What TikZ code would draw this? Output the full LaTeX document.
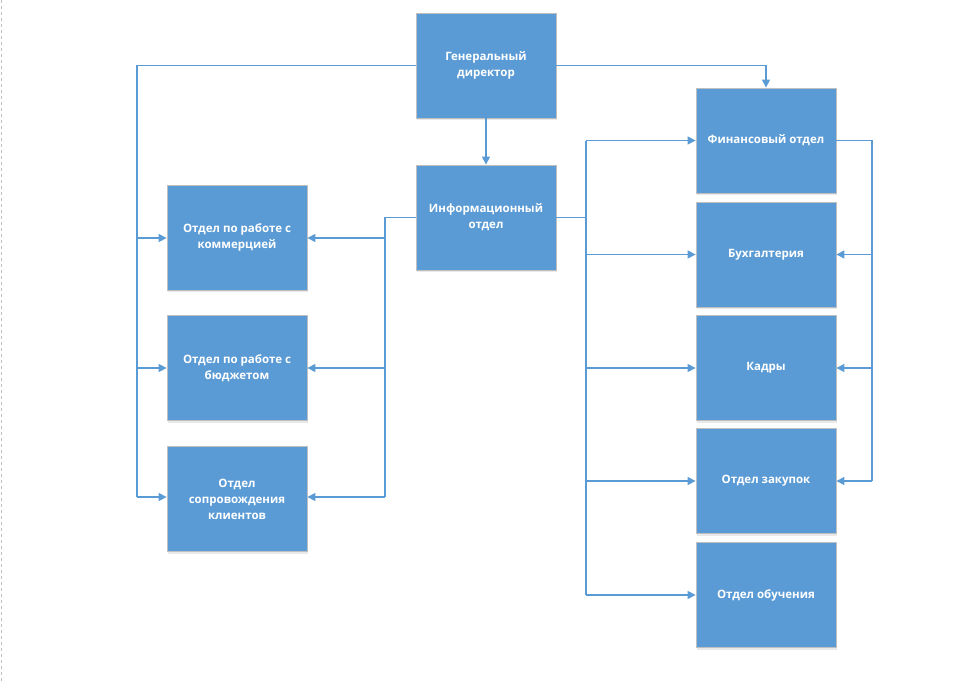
\documentclass[tikz,border=0pt]{standalone}
\usepackage{fontspec}
\setmainfont{Open Sans}
\usetikzlibrary{arrows.meta,shadows}
\definecolor{boxblue}{HTML}{5B9BD5}
\definecolor{boxedge}{HTML}{BFBFBF}
\definecolor{lineblue}{HTML}{5B9BD5}
\begin{document}
\begin{tikzpicture}[x=1pt,y=-1pt,
  box/.style={draw=boxedge,line width=0.8pt,fill=boxblue,minimum width=140pt,minimum height=105pt,
    inner sep=0pt,align=center,text=white,font=\fontsize{11.5}{16}\selectfont\bfseries,
    drop shadow={shadow xshift=1pt,shadow yshift=-2pt,fill=black!25,opacity=0.35}},
  link/.style={draw=lineblue,line width=1.3pt},
  arr/.style={link,-{Triangle[length=8pt,width=8pt]}}]
\useasboundingbox (0,0) rectangle (965,682);
\draw[boxedge,dashed,line width=0.6pt] (1,0) -- (1,682);
% boxes
\node[box] (gd) at (486,65.5) {Генеральный\\директор};
\node[box] (info) at (486,217.5) {Информационный\\отдел};
\node[box] (l1) at (237,237.5) {Отдел по работе с\\коммерцией};
\node[box] (l2) at (237,368) {Отдел по работе с\\бюджетом};
\node[box] (l3) at (237,499) {Отдел\\сопровождения\\клиентов};
\node[box] (r1) at (766,140.5) {Финансовый отдел};
\node[box] (r2) at (766,254.5) {Бухгалтерия};
\node[box] (r3) at (766,368) {Кадры};
\node[box] (r4) at (766,481) {Отдел закупок};
\node[box] (r5) at (766,595) {Отдел обучения};
% buses
\coordinate (lbus) at (137,0);
\coordinate (mbus) at (385,0);
\coordinate (rbus) at (586,0);
\coordinate (fbus) at (872,0);
\coordinate (topbus) at (766,0);
% GD left bus
\draw[link] (gd.west) -- (gd.west -| lbus) -- (lbus |- 0,497);
\draw[arr] (lbus |- 0,238) -- (l1.west |- 0,238);
\draw[arr] (lbus |- 0,368) -- (l2.west |- 0,368);
\draw[arr] (lbus |- 0,497) -- (l3.west |- 0,497);
% GD right to Fin
\draw[arr] (gd.east) -| (r1.north);
% GD to Info
\draw[arr] (gd.south) -- (info.north);
% Info left bus
\draw[link] (info.west) -- (info.west -| mbus) -- (mbus |- 0,497);
\draw[arr] (mbus |- 0,238) -- (l1.east |- 0,238);
\draw[arr] (mbus |- 0,368) -- (l2.east |- 0,368);
\draw[arr] (mbus |- 0,497) -- (l3.east |- 0,497);
% Info right bus
\draw[link] (info.east) -- (info.east -| rbus);
\draw[link] (rbus |- r1.west) -- (rbus |- r5.west);
\draw[arr] (rbus |- r1.west) -- (r1.west);
\draw[arr] (rbus |- r2.west) -- (r2.west);
\draw[arr] (rbus |- r3.west) -- (r3.west);
\draw[arr] (rbus |- r4.west) -- (r4.west);
\draw[arr] (rbus |- r5.west) -- (r5.west);
% Fin right bus
\draw[link] (r1.east) -- (r1.east -| fbus) -- (fbus |- r4.east);
\draw[arr] (fbus |- r2.east) -- (r2.east);
\draw[arr] (fbus |- r3.east) -- (r3.east);
\draw[arr] (fbus |- r4.east) -- (r4.east);
\end{tikzpicture}
\end{document}
